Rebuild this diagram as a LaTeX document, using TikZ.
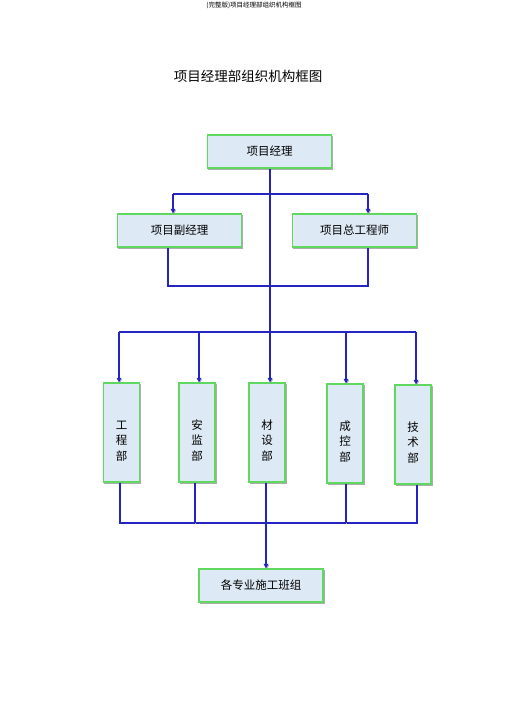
\documentclass[tikz,border=0pt]{standalone}
\usepackage{fontspec}
\usepackage{xcolor}
\usetikzlibrary{arrows.meta}
\newfontfamily\cjk{Noto Sans CJK SC}
\definecolor{cboxfill}{HTML}{DDE9F5}
\definecolor{cboxline}{HTML}{5ED85E}
\definecolor{cwire}{HTML}{2424C2}

\begin{document}
\begin{tikzpicture}[x=1pt, y=-1pt]
    \tikzset{
        unit/.style={rectangle, draw=cboxline, line width=1.2pt, fill=cboxfill, font=\cjk\fontsize{11.5}{14}\selectfont, align=center, inner sep=0pt, preaction={draw=gray!65, fill=gray!65, transform canvas={xshift=1.3pt, yshift=-1.3pt}}},
        hbox/.style={unit, minimum width=124pt, minimum height=33pt},
        dept/.style={unit, minimum width=36pt, minimum height=99pt, text height=56pt, font=\cjk\fontsize{11.5}{15.5}\selectfont},
        heading/.style={font=\cjk\fontsize{13.5}{16}\selectfont},
        pagehead/.style={font=\cjk\fontsize{6.5}{8}\selectfont},
        link/.style={draw=cwire, line width=1.1pt, preaction={draw=gray!60, line width=1.1pt, transform canvas={xshift=0.9pt, yshift=-0.9pt}}},
        flow/.style={link, -{Triangle[length=4.5pt, width=4.5pt]}}
    }

    \path[use as bounding box, fill=white] (0,0) rectangle (505,714);

    \node[pagehead] (page_head) at (254,5) {(完整版)项目经理部组织机构框图};
    \node[heading] (title) at (248,76) {项目经理部组织机构框图};

    \node[hbox] (manager) at (269.5,151.5) {项目经理};
    \node[hbox] (deputy) at (179.5,230.5) {项目副经理};
    \node[hbox] (chief) at (354.5,230.5) {项目总工程师};

    \node[dept] (eng) at (121.5,432.5) {工\\程\\部};
    \node[dept] (safety) at (197,432.5) {安\\监\\部};
    \node[dept] (material) at (267,432.5) {材\\设\\部};
    \node[dept] (cost) at (345,433.5) {成\\控\\部};
    \node[dept] (tech) at (413,434.5) {技\\术\\部};

    \node[hbox] (teams) at (261,585.5) {各专业施工班组};

    \coordinate (split_left) at (173,194);
    \coordinate (split_right) at (368,194);
    \coordinate (join_left) at (168,286);
    \coordinate (join_right) at (368,286);
    \coordinate (bus_top) at (270,332);
    \coordinate (bus_top_w) at (119,332);
    \coordinate (bus_top_e) at (416,332);
    \coordinate (bus_low) at (266,523);
    \coordinate (bus_low_w) at (120,523);
    \coordinate (bus_low_e) at (417,523);

    \path[link] (manager.south -| bus_top) -- (bus_top);
    \path[link] (split_left) -- (split_right);
    \path[flow] (split_left) -- (split_left |- deputy.north);
    \path[flow] (split_right) -- (split_right |- chief.north);
    \path[link] (join_left |- deputy.south) -- (join_left) -- (join_right) -- (join_right |- chief.south);

    \path[link] (bus_top_w) -- (bus_top_e);
    \path[flow] (bus_top_w) -- (bus_top_w |- eng.north);
    \path[flow] (199,332) -- (199,0 |- safety.north);
    \path[flow] (bus_top) -- (bus_top |- material.north);
    \path[flow] (346,332) -- (346,0 |- cost.north);
    \path[flow] (bus_top_e) -- (bus_top_e |- tech.north);

    \path[link] (bus_low_w |- eng.south) -- (bus_low_w) -- (bus_low_e) -- (bus_low_e |- tech.south);
    \path[link] (195,0 |- safety.south) -- (195,523);
    \path[link] (346,0 |- cost.south) -- (346,523);
    \path[flow] (bus_low |- material.south) -- (bus_low |- teams.north);
\end{tikzpicture}
\end{document}
